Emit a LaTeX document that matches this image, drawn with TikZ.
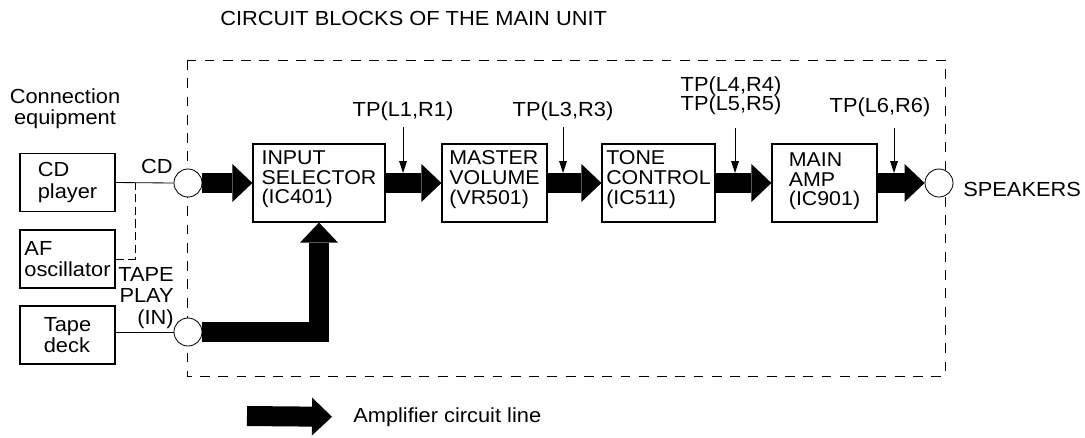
\documentclass[tikz,border=0pt]{standalone}
\usepackage{fontspec}
\setmainfont{Liberation Sans}[FakeStretch=1.07]
\usetikzlibrary{arrows.meta,positioning}
\tikzset{
  blk/.style    ={draw=black, line width=0.85pt, minimum width=#1, minimum height=1.95cm,
                  inner sep=0pt},
  blktxt/.style ={align=left, inner sep=0pt, font=\fontsize{14.2}{14}\selectfont},
  sidebox/.style={draw=black, line width=0.85pt, minimum width=2.375cm, minimum height=1.45cm,
                  inner sep=0pt, align=left, font=\fontsize{14.5}{15.3}\selectfont},
  jack/.style   ={circle, draw=black, line width=0.6pt, fill=white, minimum size=0.7cm, inner sep=0pt},
  lbl/.style    ={inner sep=0pt, font=\fontsize{14.5}{15.3}\selectfont},
  wire/.style   ={draw=black, line width=0.6pt},
  frm/.style    ={draw=black, line width=0.6pt, dash pattern=on 7pt off 6pt},
  bigar/.style  ={-{Triangle[width=9.5mm, length=5mm, line width=0pt]}, line width=5mm,
                  line join=miter},
  tpar/.style   ={-{Triangle[width=2mm, length=3mm, line width=0pt]}, line width=0.6pt,
                  shorten >=2.5mm},
}
\begin{document}
\begin{tikzpicture}[x=0.025cm, y=-0.025cm]
\useasboundingbox (0,0) rectangle (1085,437);
\node[lbl, anchor=base west] (title) at (220,25) {CIRCUIT BLOCKS OF THE MAIN UNIT};
\draw[frm] (187,60) rectangle (945,376);

% connection equipment
\node[lbl, align=center, anchor=north] (ce) at (65,88) {Connection\\equipment};
\node[sidebox] (cd) at (67.5,182.5) {CD\\player};
\node[sidebox] (af) at (67.5,259) {AF\\oscillator};
\node[sidebox] (td) at (67.5,335) {Tape\\deck};

% jacks
\node[jack] (cdin) at (188,183) {};
\node[jack] (tpin) at (188,332) {};
\node[jack] (spk) at (939,183) {};
\node[lbl, anchor=base] (cdl) at (157,173) {CD};
\node[lbl, align=right, anchor=north east] (tpl) at (174,267) {TAPE\\PLAY\\(IN)};
\node[lbl, anchor=west] (spkl) at (963,189) {SPEAKERS};

% blocks
\node[blk=3.3cm] (is) at (319,183) {};
\node[blk=2.625cm] (mv) at (494.5,183) {};
\node[blk=2.825cm] (tc) at (658.5,183) {};
\node[blk=2.625cm] (ma) at (824.5,183) {};
\node[blktxt, below=1.8mm of is.north] (is-t) {INPUT\\SELECTOR\\(IC401)};
\node[blktxt, below=1.8mm of mv.north] (mv-t) {MASTER\\VOLUME\\(VR501)};
\node[blktxt, below=1.8mm of tc.north] (tc-t) {TONE\\CONTROL\\(IC511)};
\node[blktxt, below=2.3mm of ma.north] (ma-t) {MAIN\\AMP\\(IC901)};

% wiring
\coordinate (cdj) at (135,183);
\draw[wire] (cd.east) -- (cdin.west);
\draw[wire] (td.east |- tpin) -- (tpin.west);
\draw[wire, dash pattern=on 6pt off 3pt] (af.east) -| (cdj);

\draw[bigar] (cdin.east) -- (is.west);
\draw[bigar] (tpin.east) -| (is.south);
\draw[bigar] (is.east) -- (mv.west);
\draw[bigar] (mv.east) -- (tc.west);
\draw[bigar] (tc.east) -- (ma.west);
\draw[bigar] (ma.east) -- (spk.west);

% test points
\coordinate (t1) at (403,127);
\coordinate (t3) at (563,127);
\coordinate (t45) at (735,128);
\coordinate (t6) at (894,128);
\node[lbl, above=1.5mm of t1] (tp1) {TP(L1,R1)};
\node[lbl, above=1.5mm of t3] (tp3) {TP(L3,R3)};
\node[lbl, align=center, font=\fontsize{14.5}{14}\selectfont, above=3.2mm of t45, xshift=-1mm] (tp45) {TP(L4,R4)\\TP(L5,R5)};
\node[lbl, above=2.7mm of t6, xshift=-3.5mm] (tp6) {TP(L6,R6)};
\draw[tpar] (t1) -- (t1 |- is.east);
\draw[tpar] (t3) -- (t3 |- mv.east);
\draw[tpar] (t45) -- (t45 |- tc.east);
\draw[tpar] (t6) -- (t6 |- ma.east);

% legend
\coordinate (lga) at (247,416);
\node[lbl, anchor=west] (lgt) at (353,417) {Amplifier circuit line};
\draw[bigar, shorten >=5.25mm] (lga) -- (lgt.west);
\end{tikzpicture}
\end{document}
